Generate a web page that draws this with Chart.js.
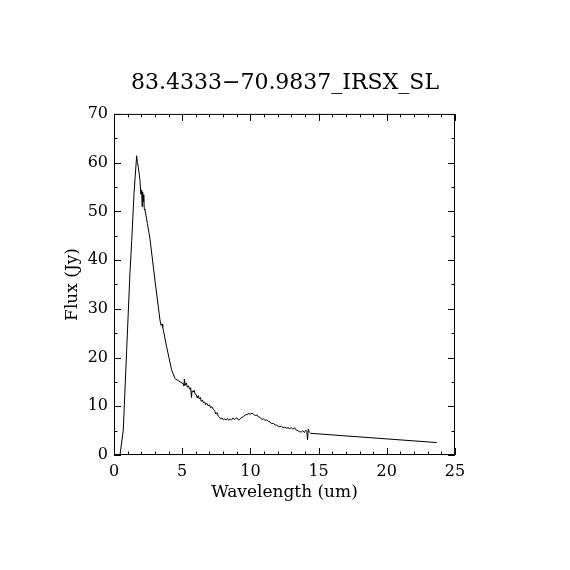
<!DOCTYPE html>
<html>
<head>
<meta charset="utf-8">
<title>83.4333-70.9837_IRSX_SL</title>
<script src="https://cdn.jsdelivr.net/npm/chart.js@4.4.1/dist/chart.umd.min.js"></script>
<style>
  html, body { margin: 0; padding: 0; background: #fff; }
  canvas { display: block; }
</style>
</head>
<body>
<canvas id="chart" width="570" height="570"></canvas>
<script>
// spectrum (wavelength in um, flux in Jy)
const wavelength = [
  0.44, 0.68, 0.93, 1.17, 1.30, 1.47, 1.66, 1.72, 1.78, 1.90,
  1.97, 2.03, 2.06, 2.10, 2.14, 2.18, 2.22, 2.27, 2.45, 2.64,
  3.00, 3.37, 3.45, 3.52, 3.57, 3.62, 3.86, 4.22, 4.47, 5.08,
  5.12, 5.16, 5.22, 5.30, 5.38, 5.46, 5.55, 5.62, 5.68, 5.72,
  5.80, 5.88, 5.95, 6.03, 6.10, 6.18, 6.25, 6.33, 6.40, 6.48,
  6.56, 6.65, 6.72, 6.80, 6.90, 7.00, 7.08, 7.18, 7.28, 7.38,
  7.46, 7.55, 7.64, 7.72, 7.82, 7.92, 8.02, 8.12, 8.22, 8.32,
  8.42, 8.52, 8.62, 8.72, 8.82, 8.92, 9.02, 9.12, 9.22, 9.35,
  9.50, 9.62, 9.75, 9.88, 10.00, 10.12, 10.24, 10.36, 10.48, 10.60,
  10.72, 10.84, 10.96, 11.08, 11.20, 11.32, 11.44, 11.56, 11.68, 11.80,
  11.92, 12.04, 12.16, 12.28, 12.40, 12.52, 12.64, 12.76, 12.88, 13.00,
  13.12, 13.24, 13.36, 13.48, 13.60, 13.72, 13.84, 13.96, 14.06, 14.14,
  14.19, 14.24, 14.32, 14.42, 23.66
]
const flux = [
  0.0, 5.1, 21.6, 37.4, 44.0, 53.8, 61.4, 60.0, 59.2, 56.5,
  53.5, 54.4, 51.0, 54.0, 52.0, 53.4, 50.5, 50.3, 47.5, 44.3,
  35.9, 27.7, 26.6, 26.9, 26.2, 25.6, 22.2, 17.5, 15.7, 14.6,
  14.2, 15.6, 14.3, 14.8, 13.9, 14.2, 13.5, 13.8, 11.8, 13.2,
  12.9, 13.3, 12.5, 12.4, 11.7, 12.2, 11.5, 11.8, 11.0, 11.3,
  10.7, 10.9, 10.3, 10.6, 10.1, 10.3, 9.7, 9.9, 9.4, 9.1,
  8.4, 8.7, 8.0, 7.8, 7.4, 7.6, 7.2, 7.4, 7.2, 7.5,
  7.1, 7.4, 7.2, 7.6, 7.3, 7.5, 7.6, 7.2, 7.3, 7.7,
  7.9, 8.2, 8.3, 8.5, 8.4, 8.6, 8.3, 8.1, 8.2, 7.8,
  7.7, 7.3, 7.4, 7.1, 7.2, 6.9, 6.8, 6.4, 6.5, 6.2,
  6.1, 5.9, 5.8, 5.9, 5.6, 5.7, 5.5, 5.6, 5.4, 5.6,
  5.3, 5.6, 5.1, 5.0, 4.8, 4.7, 5.0, 4.6, 5.1, 4.8,
  3.1, 5.3, 4.7, 4.45, 2.55
]
const xRange = [0, 25]
const yRange = [0, 70]
const xMajorStep = 5
const xMinorStep = 1
const yMajorStep = 10
const yMinorStep = 5

const chartTitle = '83.4333\u221270.9837_IRSX_SL'
const xTitle = 'Wavelength (um)'
const yTitle = 'Flux (Jy)'

const points = wavelength.map((w, i) => ({ x: w, y: flux[i] }))

// IDL style frame: box with inward ticks on all four sides
const boxTicks = {
  id: 'boxTicks',
  afterDraw(chart) {
    const { ctx, chartArea: a, scales } = chart
    const xs = scales.x, ys = scales.y
    ctx.save()
    ctx.strokeStyle = '#000'
    ctx.lineWidth = 1
    ctx.beginPath()
    ctx.rect(a.left + 0.5, a.top + 0.5, a.right - a.left - 1, a.bottom - a.top - 1)
    for (let v = xRange[0]; v <= xRange[1]; v += xMinorStep) {
      const px = Math.round(xs.getPixelForValue(v)) + 0.5
      const len = v % xMajorStep === 0 ? 7 : 3.5
      ctx.moveTo(px, a.bottom); ctx.lineTo(px, a.bottom - len)
      ctx.moveTo(px, a.top); ctx.lineTo(px, a.top + len)
    }
    for (let v = yRange[0]; v <= yRange[1]; v += yMinorStep) {
      const py = Math.round(ys.getPixelForValue(v)) + 0.5
      const len = v % yMajorStep === 0 ? 7 : 3.5
      ctx.moveTo(a.left, py); ctx.lineTo(a.left + len, py)
      ctx.moveTo(a.right, py); ctx.lineTo(a.right - len, py)
    }
    ctx.stroke()
    ctx.restore()
  }
}

const font = 'DejaVu Serif'

new Chart(document.getElementById('chart'), {
  type: 'line',
  data: {
    datasets: [{
      data: points,
      borderColor: '#000',
      borderWidth: 1,
      pointRadius: 0,
      tension: 0,
      fill: false
    }]
  },
  options: {
    responsive: false,
    animation: false,
    plugins: {
      legend: { display: false },
      tooltip: { enabled: false },
      title: {
        display: true,
        text: chartTitle,
        color: '#000',
        font: { family: font, size: 22, weight: 'normal' },
        padding: { top: 70, bottom: 17.5 }
      }
    },
    scales: {
      x: {
        type: 'linear',
        min: xRange[0],
        max: xRange[1],
        grid: { display: false, drawTicks: false },
        border: { display: false },
        ticks: {
          stepSize: xMajorStep,
          color: '#000',
          padding: 7,
          maxRotation: 0,
          font: { family: font, size: 16 }
        },
        title: {
          display: true,
          text: xTitle,
          color: '#000',
          font: { family: font, size: 17 },
          padding: { top: 0, bottom: 67 }
        },
        afterFit(scale) { scale.height = 115 }
      },
      y: {
        type: 'linear',
        min: yRange[0],
        max: yRange[1],
        grid: { display: false, drawTicks: false },
        border: { display: false },
        ticks: {
          stepSize: yMajorStep,
          color: '#000',
          padding: 6,
          font: { family: font, size: 16 }
        },
        title: {
          display: true,
          text: yTitle,
          color: '#000',
          font: { family: font, size: 17 },
          padding: { top: 62, bottom: 0 }
        },
        afterFit(scale) { scale.width = 114 }
      },
      // empty right margin, keeps the title centred on the canvas
      yRight: {
        type: 'linear',
        position: 'right',
        min: yRange[0],
        max: yRange[1],
        grid: { display: false, drawTicks: false },
        border: { display: false },
        ticks: { display: false },
        afterFit(scale) { scale.width = 115 }
      }
    }
  },
  plugins: [boxTicks]
})
</script>
</body>
</html>
